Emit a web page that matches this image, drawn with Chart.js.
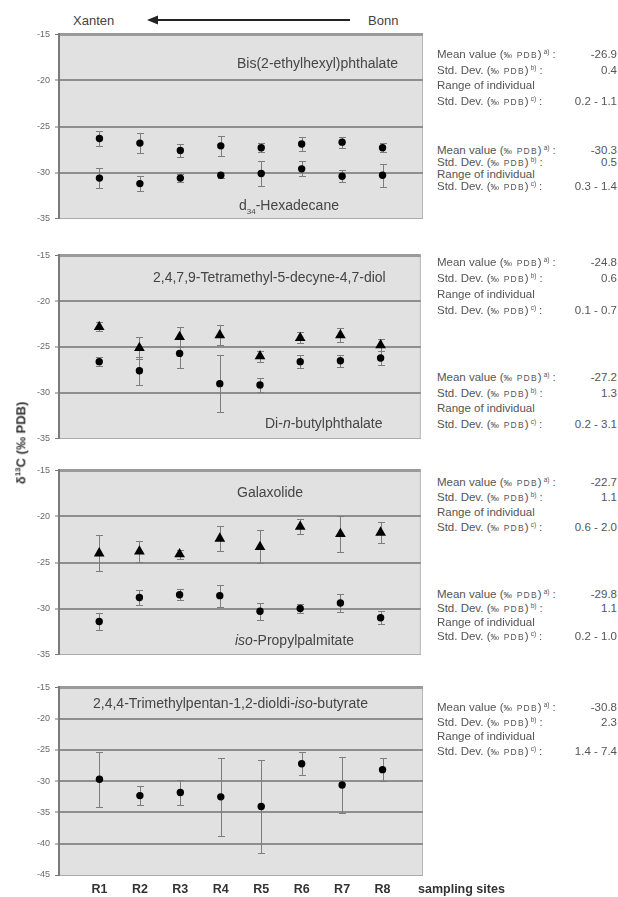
<!DOCTYPE html>
<html>
<head>
<meta charset="utf-8">
<script src="https://cdn.jsdelivr.net/npm/chart.js@4.4.1/dist/chart.umd.min.js"></script>
<style>
  body { margin: 0; background: #fff; font-family: "Liberation Sans", Arial, sans-serif; }
  #page { position: relative; width: 618px; height: 897px; overflow: hidden; }
  canvas { position: absolute; left: 0; }
  .txt { position: absolute; white-space: nowrap; transform: translateY(-50%); line-height: 1; }
  .title { font-size: 14px; color: #454545; }
  .head { font-size: 13px; color: #444; }
  .row { position: absolute; left: 437px; width: 180px; display: flex; justify-content: space-between;
         font-size: 11.5px; color: #555; transform: translateY(-50%); line-height: 1; white-space: nowrap; }
  .sm { font-size: 8.5px; letter-spacing: 1.2px; }
  .sup { font-size: 6.5px; vertical-align: 4px; margin-left: 2px; margin-right: 3px; }
  .ytitle { position: absolute; left: 21px; top: 443px; font-size: 13px; font-weight: bold; color: #333;
            white-space: nowrap; transform: translate(-50%, -50%) rotate(-90deg); }
  .xname { position: absolute; left: 418px; top: 889px; font-size: 12.5px; font-weight: bold; color: #333;
           transform: translateY(-50%); white-space: nowrap; }
</style>
</head>
<body>
<div id="page">
  <div class="txt head" style="left:73px;top:20px">Xanten</div>
  <div class="txt head" style="left:368px;top:20px">Bonn</div>
  <svg style="position:absolute;left:140px;top:12px" width="220" height="16">
    <line x1="14" y1="8" x2="210" y2="8" stroke="#222" stroke-width="2"/>
    <polygon points="7,8 18,3.5 18,12.5" fill="#222"/>
  </svg>

  <canvas id="p1"></canvas>
  <canvas id="p2"></canvas>
  <canvas id="p3"></canvas>
  <canvas id="p4"></canvas>

  <div class="txt title" style="left:237px;top:63px">Bis(2-ethylhexyl)phthalate</div>
  <div class="txt title" style="left:239px;top:207px">d<sub style="font-size:8px">34</sub>-Hexadecane</div>
  <div class="txt title" style="left:153px;top:277px">2,4,7,9-Tetramethyl-5-decyne-4,7-diol</div>
  <div class="txt title" style="left:265px;top:423px">Di-<i>n</i>-butylphthalate</div>
  <div class="txt title" style="left:237px;top:492px">Galaxolide</div>
  <div class="txt title" style="left:235px;top:640px"><i>iso</i>-Propylpalmitate</div>
  <div class="txt title" style="left:93px;top:703px">2,4,4-Trimethylpentan-1,2-dioldi-<i>iso</i>-butyrate</div>

  <div class="ytitle">&delta;<sup style="font-size:8px">13</sup>C (&permil; PDB)</div>
  <div class="xname">sampling sites</div>
  <div id="notes"></div>
</div>

<script>
// sampling sites along the river
const sites = ['R1', 'R2', 'R3', 'R4', 'R5', 'R6', 'R7', 'R8'];
const sitePos = [1, 2, 3, 4, 5, 6, 7, 8];

// δ13C means and standard deviations (‰ PDB) per compound
const dehpMean = [-26.3, -26.8, -27.6, -27.1, -27.3, -26.9, -26.7, -27.3];
const dehpErr  = [0.85, 1.05, 0.75, 1.1, 0.5, 0.8, 0.6, 0.5];
const hexMean  = [-30.6, -31.2, -30.6, -30.3, -30.1, -29.6, -30.4, -30.3];
const hexErr   = [1.05, 0.8, 0.45, 0.3, 1.4, 0.8, 0.65, 1.25];

const tmddMean = [-22.8, -25.1, -23.9, -23.7, -26.0, -24.0, -23.7, -24.8];
const tmddErr  = [0.5, 1.2, 1.05, 1.1, 0.6, 0.6, 0.8, 0.65];
const dbpMean  = [-26.6, -27.6, -25.7, -29.0, -29.15, -26.6, -26.5, -26.2];
const dbpErr   = [0.5, 1.5, 1.6, 3.1, 0.8, 0.7, 0.65, 0.75];

const galMean  = [-24.0, -23.8, -24.1, -22.4, -23.3, -21.1, -21.9, -21.75];
const galErr   = [1.95, 1.1, 0.5, 1.4, 1.8, 0.8, 2.0, 1.1];
const ippMean  = [-31.4, -28.8, -28.5, -28.6, -30.3, -30.0, -29.4, -31.0];
const ippErr   = [0.95, 0.8, 0.6, 1.2, 0.95, 0.5, 0.95, 0.7];

const txibMean = [-29.7, -32.3, -31.8, -32.5, -34.05, -27.2, -30.6, -28.15];
const txibErr  = [4.4, 1.5, 2.0, 6.2, 7.4, 1.85, 4.5, 1.8];

// summary figures printed beside each panel
const noteMeans  = ['-26.9', '-30.3', '-24.8', '-27.2', '-22.7', '-29.8', '-30.8'];
const noteSds    = ['0.4', '0.5', '0.6', '1.3', '1.1', '1.1', '2.3'];
const noteRanges = ['0.2 - 1.1', '0.3 - 1.4', '0.1 - 0.7', '0.2 - 3.1', '0.6 - 2.0', '0.2 - 1.0', '1.4 - 7.4'];
const noteTops   = [55, 151, 263, 378, 483, 595, 708];
const noteSteps  = [15.5, 12, 16, 15.5, 15, 14, 14.7];

const FONT = '"Liberation Sans", Arial, sans-serif';

// --- notes column ---
const notes = document.getElementById('notes');
const pdb = '(<span class="sm">&permil; PDB</span>)';
noteMeans.forEach((m, k) => {
  const lines = [
    [`Mean value ${pdb}<span class="sup">a)</span>:`, m],
    [`Std. Dev. ${pdb}<span class="sup">b)</span>:`, noteSds[k]],
    ['Range of individual', ''],
    [`Std. Dev. ${pdb}<span class="sup">c)</span>:`, noteRanges[k]]
  ];
  lines.forEach((l, j) => {
    const row = document.createElement('div');
    row.className = 'row';
    row.style.top = (noteTops[k] + j * noteSteps[k]) + 'px';
    row.innerHTML = `<span>${l[0]}</span><span>${l[1]}</span>`;
    notes.appendChild(row);
  });
});

// --- plugins ---
const panelBg = {
  id: 'panelBg',
  beforeDraw(chart) {
    const { ctx, chartArea: a } = chart;
    ctx.save();
    ctx.fillStyle = '#e1e1e1';
    ctx.fillRect(a.left, a.top, a.right - a.left, a.bottom - a.top);
    ctx.strokeStyle = '#b8b8b8';
    ctx.lineWidth = 1;
    ctx.beginPath();
    ctx.moveTo(a.right - 0.5, a.top);
    ctx.lineTo(a.right - 0.5, a.bottom);
    ctx.stroke();
    ctx.restore();
  }
};

const errorBars = {
  id: 'errorBars',
  beforeDatasetsDraw(chart) {
    const { ctx, scales: { x, y } } = chart;
    ctx.save();
    ctx.strokeStyle = '#7d7d7d';
    ctx.lineWidth = 1;
    chart.data.datasets.forEach(ds => {
      ds.data.forEach((p, i) => {
        const e = ds.err[i];
        const px = Math.round(x.getPixelForValue(p.x)) + 0.5;
        const y1 = Math.round(y.getPixelForValue(p.y + e)) + 0.5;
        const y2 = Math.round(y.getPixelForValue(p.y - e)) + 0.5;
        ctx.beginPath();
        ctx.moveTo(px, y1); ctx.lineTo(px, y2);
        ctx.moveTo(px - 3.5, y1); ctx.lineTo(px + 3.5, y1);
        ctx.moveTo(px - 3.5, y2); ctx.lineTo(px + 3.5, y2);
        ctx.stroke();
      });
    });
    ctx.restore();
  }
};

// --- one panel per compound pair ---
function makePanel(id, top, bottom, yMin, sets, showX) {
  const cv = document.getElementById(id);
  const padT = 8;
  const axisH = showX ? 22 : 0;
  const padB = showX ? 0 : 8;
  cv.width = 427;
  cv.height = (bottom - top) + padT + padB + axisH;
  cv.style.top = (top - padT) + 'px';

  new Chart(cv, {
    type: 'scatter',
    data: {
      datasets: sets.map(s => ({
        data: s.mean.map((v, i) => ({ x: sitePos[i], y: v })),
        err: s.err,
        pointStyle: s.shape,
        radius: s.shape === 'triangle' ? 6.2 : 3.7,
        backgroundColor: '#000',
        borderColor: '#000',
        borderWidth: 0
      }))
    },
    options: {
      responsive: false,
      animation: false,
      layout: { padding: { top: padT, bottom: padB, left: 0, right: 2 } },
      plugins: { legend: { display: false }, tooltip: { enabled: false } },
      scales: {
        x: {
          type: 'linear', min: 0, max: 9, display: showX,
          afterBuildTicks: s => { s.ticks = sitePos.map(v => ({ value: v })); },
          afterFit: s => { s.height = axisH; },
          grid: { display: false, drawTicks: false },
          border: { display: false },
          ticks: {
            padding: 7, color: '#333',
            font: { family: FONT, size: 12.5, weight: 'bold' },
            callback: v => sites[v - 1] || ''
          }
        },
        y: {
          min: yMin, max: -15,
          afterFit: s => { s.width = 59; },
          ticks: { stepSize: 5, padding: 5, color: '#6a6a6a', font: { family: FONT, size: 9 } },
          grid: {
            color: c => c.tick.value === -15 ? '#9a9a9a' : (c.tick.value === yMin ? '#ababab' : '#8e8e8e'),
            lineWidth: c => c.tick.value === -15 ? 3 : (c.tick.value === yMin ? 1 : 2),
            tickColor: '#777', tickWidth: 1, tickLength: 4
          },
          border: { color: '#7a7a7a', width: 2 }
        }
      }
    },
    plugins: [panelBg, errorBars]
  });
}

makePanel('p1', 32, 221, -35, [
  { mean: dehpMean, err: dehpErr, shape: 'circle' },
  { mean: hexMean, err: hexErr, shape: 'circle' }
], false);
makePanel('p2', 253, 441, -35, [
  { mean: dbpMean, err: dbpErr, shape: 'circle' },
  { mean: tmddMean, err: tmddErr, shape: 'triangle' }
], false);
makePanel('p3', 468, 657, -35, [
  { mean: ippMean, err: ippErr, shape: 'circle' },
  { mean: galMean, err: galErr, shape: 'triangle' }
], false);
makePanel('p4', 685, 875, -45, [
  { mean: txibMean, err: txibErr, shape: 'circle' }
], true);
</script>
</body>
</html>
